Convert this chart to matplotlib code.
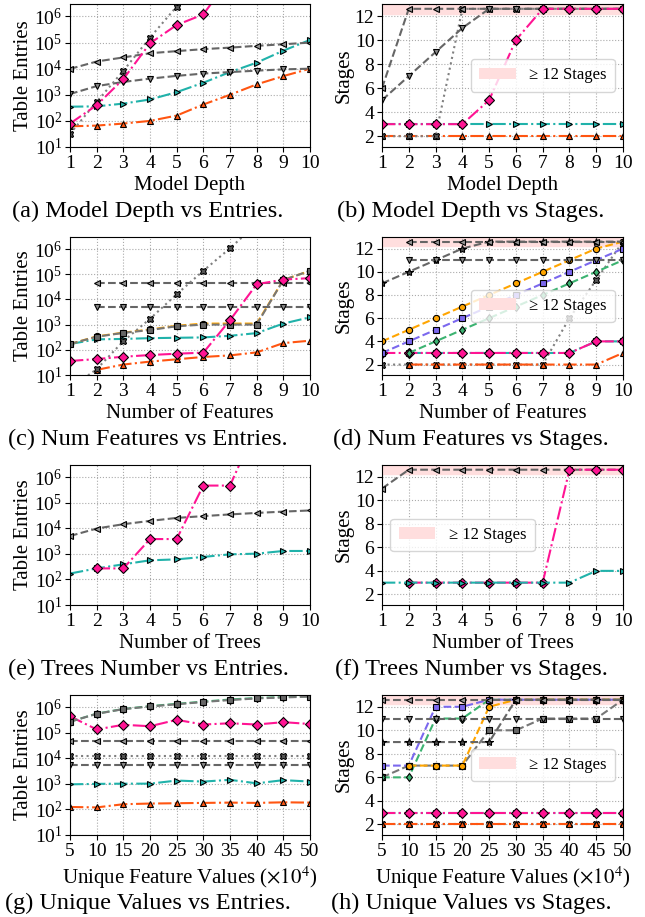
import numpy as np
import matplotlib.pyplot as plt
from matplotlib.patches import Patch

plt.rcParams['font.family'] = 'serif'
plt.rcParams['font.serif'] = ['Liberation Serif', 'DejaVu Serif']
plt.rcParams['mathtext.fontset'] = 'stix'

nan = np.nan

# x axes
depth = [1, 2, 3, 4, 5, 6, 7, 8, 9, 10]
n_features = [1, 2, 3, 4, 5, 6, 7, 8, 9, 10]
n_trees = [1, 2, 3, 4, 5, 6, 7, 8, 9, 10]
unique_vals = [5, 10, 15, 20, 25, 30, 35, 40, 45, 50]

# (a) model depth vs table entries
a_orange = [62, 66, 79, 100, 160, 425, 1000, 2500, 5200, 10000]
a_teal = [350, 360, 460, 660, 1260, 2900, 7400, 17000, 49000, 126000]
a_grey_down = [1070, 2150, 3100, 4150, 5300, 6500, 7400, 8400, 9400, 10000]
a_grey_left = [9800, 18800, 27000, 39000, 47000, 56000, 64000, 75000, 86000, 100000]
a_grey_x = [32, 540, 8300, 155000, 2.4e6, 4e7, nan, nan, nan, nan]
a_pink = [79, 400, 4000, 94000, 470000, 1.2e6, 3e7, nan, nan, nan]

# (b) model depth vs stages (12.6 = ">= 12 stages")
b_orange = [2, 2, 2, 2, 2, 2, 2, 2, 2, 2]
b_teal = [3, 3, 3, 3, 3, 3, 3, 3, 3, 3]
b_grey_x = [2, 2, 2, 12.6, 12.6, 12.6, 12.6, 12.6, 12.6, 12.6]
b_grey_left = [6, 12.6, 12.6, 12.6, 12.6, 12.6, 12.6, 12.6, 12.6, 12.6]
b_grey_down = [5, 7, 9, 11, 12.6, 12.6, 12.6, 12.6, 12.6, 12.6]
b_pink = [3, 3, 3, 3, 5, 10, 12.6, 12.6, 12.6, 12.6]

# (c) number of features vs table entries
c_orange = [nan, 16, 26, 34, 42, 52, 60, 79, 185, 230]
c_pink = [36, 43, 53, 62, 70, 77, 1500, 40000, 61000, 70000]
c_teal = [170, 260, 270, 290, 300, 310, 360, 460, 1100, 1950]
c_grey_left = [nan, 45000, 45000, 45000, 45000, 45000, 45000, 45000, 45000, 45000]
c_grey_down = [nan, 5000, 5000, 5000, 5000, 5000, 5000, 5000, 5000, 5000]
c_grey_x = [3, 17, 220, 1700, 16000, 137000, 1.07e6, 1e7, nan, nan]
c_amber = [170, 340, 480, 640, 900, 1100, 1100, 1100, 59000, 137000]
c_grey_sq = [170, 330, 470, 610, 860, 1000, 1000, 1000, 59000, 137000]

# (d) number of features vs stages
d_orange = [nan, 2, 2, 2, 2, 2, 2, 2, 2, 3]
d_grey_x = [2, 2, 2, 2, 2, 2, 2, 6, 9.3, 12.6]
d_teal = [nan, 3, 3, 3, 3, 3, 3, 3, 4, 4]
d_pink = [3, 3, 3, 3, 3, 3, 3, 3, 4, 4]
d_amber = [4, 5, 6, 7, 8, 9, 10, 11, 12, 12.6]
d_violet = [3, 4, 5, 6, 7, 8, 9, 10, 11, 12]
d_green = [nan, 3, 4, 5, 6, 7, 8, 9, 10, 11]
d_grey_star = [9, 10, 11, 12, 12.6, 12.6, 12.6, 12.6, 12.6, 12.6]
d_grey_left = [nan, 12.6, 12.6, 12.6, 12.6, 12.6, 12.6, 12.6, 12.6, 12.6]
d_grey_down = [nan, 11, 11, 11, 11, 11, 11, 11, 11, 11]

# (e) number of trees vs table entries
e_grey_left = [5000, 9800, 14500, 19500, 25500, 30000, 35000, 40000, 45000, 50000]
e_teal = [170, 270, 390, 560, 610, 760, 960, 1020, 1300, 1300]
e_pink = [nan, 270, 270, 3800, 3800, 470000, 470000, 1e8, nan, nan]

# (f) number of trees vs stages
f_grey_left = [11, 12.6, 12.6, 12.6, 12.6, 12.6, 12.6, 12.6, 12.6, 12.6]
f_pink = [nan, 3, 3, 3, 3, 3, 3, 12.6, 12.6, 12.6]
f_teal = [3, 3, 3, 3, 3, 3, 3, 3, 4, 4]

# (g) unique feature values vs table entries
g_orange = [125, 120, 160, 170, 175, 180, 185, 180, 190, 185]
g_teal = [960, 1000, 1020, 1020, 1350, 1230, 1440, 1050, 1400, 1230]
g_grey_down = [5300, 5300, 5300, 5300, 5300, 5300, 5300, 5300, 5300, 5300]
g_grey_x = [11800, 11800, 11800, 11800, 11800, 11800, 11800, 11800, 11800, 11800]
g_grey_left = [48000, 48000, 48000, 48000, 48000, 48000, 48000, 48000, 48000, 48000]
g_pink = [440000, 135000, 205000, 180000, 320000, 210000, 235000, 210000, 260000, 220000]
g_green = [270000, 560000, 850000, 1.1e6, 1.35e6, 1.65e6, 2.0e6, 2.3e6, 2.5e6, 2.7e6]
g_grey_sq = [270000, 550000, 840000, 1.07e6, 1.3e6, 1.6e6, 1.9e6, 2.2e6, 2.4e6, 2.6e6]

# (h) unique feature values vs stages
h_orange = [2, 2, 2, 2, 2, 2, 2, 2, 2, 2]
h_grey_x = [2, 2, 2, 2, 2, 2, 2, 2, 2, 2]
h_teal = [3, 3, 3, 3, 3, 3, 3, 3, 3, 3]
h_pink = [3, 3, 3, 3, 3, 3, 3, 3, 3, 3]
h_grey_left = [12.6, 12.6, 12.6, 12.6, 12.6, 12.6, 12.6, 12.6, 12.6, 12.6]
h_grey_down = [11, 11, 11, 11, 11, 11, 11, 11, 11, 11]
h_grey_star = [9, 9, 9, 9, 9, 12.6, 12.6, 12.6, 12.6, 12.6]
h_violet = [7, 7, 12, 12, 12.6, 12.6, 12.6, 12.6, 12.6, 12.6]
h_green = [6, 6, 11, 11, 12.6, 12.6, 12.6, 12.6, 12.6, 12.6]
h_amber = [nan, 7, 7, 7, 12, 12.6, 12.6, 12.6, 12.6, 12.6]
h_grey_sq = [6, 7, 7, 7, 10, 10, 11, 11, 11, 12.6]

STYLES = {
    'orange': dict(color='#ff5511', ls='-.', marker='^', mfc='#ff5511'),
    'teal': dict(color='#20b2aa', ls='-.', marker='>', mfc='#20b2aa'),
    'pink': dict(color='#ff1493', ls='-.', marker='D', mfc='#ff1493'),
    'grey_left': dict(color='#666666', ls='--', marker='<', mfc='#999999'),
    'grey_down': dict(color='#666666', ls='--', marker='v', mfc='#888888'),
    'grey_x': dict(color='#808080', ls=':', marker='X', mfc='#555555'),
    'amber': dict(color='#ffa500', ls='--', marker='o', mfc='#ffa500'),
    'violet': dict(color='#7b68ee', ls='--', marker='s', mfc='#7b68ee'),
    'green': dict(color='#3cb371', ls='--', marker='d', mfc='#3cb371'),
    'grey_star': dict(color='#666666', ls='--', marker='*', mfc='#444444'),
    'grey_sq': dict(color='#777777', ls='--', marker='s', mfc='#666666'),
}

W, H = 645, 917
fig = plt.figure(figsize=(W / 100, H / 100), dpi=100)


def make_ax(left, top, right, bottom):
    return fig.add_axes([left / W, 1 - bottom / H, (right - left) / W, (bottom - top) / H])


def draw(ax, x, series):
    for key, vals in series:
        st = STYLES[key]
        ms = {'*': 6, 'D': 5}.get(st['marker'], 4.5)
        ax.plot(x, vals, color=st['color'], ls=st['ls'], lw=1.5, marker=st['marker'],
                ms=ms, mfc=st['mfc'], mec='black', mew=0.8)


def style_entries(ax, x, xlabel):
    ax.set_yscale('log')
    ax.set_ylim(10, 3e6)
    ax.set_yticks([1e1, 1e2, 1e3, 1e4, 1e5, 1e6])
    ax.set_xlim(x[0], x[-1])
    ax.set_xticks(x)
    ax.set_ylabel('Table Entries', fontsize=15, labelpad=1)
    ax.set_xlabel(xlabel, fontsize=15, labelpad=3)
    ax.grid(True, which='major', ls=':', color='#aaaaaa', lw=0.8)
    ax.tick_params(labelsize=14, pad=2)


def style_stages(ax, x, xlabel, legend_loc):
    ax.axhspan(12.2, 13, color='#ffdede', zorder=0)
    ax.set_ylim(1.1, 13)
    ax.set_yticks([2, 4, 6, 8, 10, 12])
    ax.set_xlim(x[0], x[-1])
    ax.set_xticks(x)
    ax.set_ylabel('Stages', fontsize=15, labelpad=1)
    ax.set_xlabel(xlabel, fontsize=15, labelpad=3)
    ax.grid(True, ls=':', color='#aaaaaa', lw=0.8)
    ax.tick_params(labelsize=14, pad=2)
    ax.legend(handles=[Patch(facecolor='#ffdede', label='≥ 12 Stages')], loc=legend_loc,
              prop={'family': ['Liberation Serif', 'DejaVu Serif'], 'size': 12},
              handlelength=2.2, borderpad=0.5)


rows = [(4, 147), (237, 375), (465, 605), (695, 835)]
LEFT = (70, 310)
RIGHT = (382, 623)

# row 1
ax = make_ax(LEFT[0], rows[0][0], LEFT[1], rows[0][1])
draw(ax, depth, [('orange', a_orange), ('teal', a_teal), ('grey_down', a_grey_down),
                 ('grey_left', a_grey_left), ('grey_x', a_grey_x), ('pink', a_pink)])
style_entries(ax, depth, 'Model Depth')

ax = make_ax(RIGHT[0], rows[0][0], RIGHT[1], rows[0][1])
draw(ax, depth, [('orange', b_orange), ('teal', b_teal), ('grey_x', b_grey_x),
                 ('grey_left', b_grey_left), ('grey_down', b_grey_down), ('pink', b_pink)])
style_stages(ax, depth, 'Model Depth', 'center right')

# row 2
ax = make_ax(LEFT[0], rows[1][0], LEFT[1], rows[1][1])
draw(ax, n_features, [('orange', c_orange), ('teal', c_teal), ('grey_down', c_grey_down),
                      ('grey_left', c_grey_left), ('grey_x', c_grey_x), ('amber', c_amber),
                      ('grey_sq', c_grey_sq), ('pink', c_pink)])
style_entries(ax, n_features, 'Number of Features')

ax = make_ax(RIGHT[0], rows[1][0], RIGHT[1], rows[1][1])
draw(ax, n_features, [('grey_x', d_grey_x), ('orange', d_orange), ('teal', d_teal),
                      ('pink', d_pink), ('green', d_green), ('violet', d_violet),
                      ('amber', d_amber), ('grey_star', d_grey_star),
                      ('grey_down', d_grey_down), ('grey_left', d_grey_left)])
style_stages(ax, n_features, 'Number of Features', 'center right')

# row 3
ax = make_ax(LEFT[0], rows[2][0], LEFT[1], rows[2][1])
draw(ax, n_trees, [('grey_left', e_grey_left), ('teal', e_teal), ('pink', e_pink)])
style_entries(ax, n_trees, 'Number of Trees')

ax = make_ax(RIGHT[0], rows[2][0], RIGHT[1], rows[2][1])
draw(ax, n_trees, [('grey_left', f_grey_left), ('pink', f_pink), ('teal', f_teal)])
style_stages(ax, n_trees, 'Number of Trees', 'center left')

# row 4
xl = r'Unique Feature Values ($\times 10^4$)'
ax = make_ax(LEFT[0], rows[3][0], LEFT[1], rows[3][1])
draw(ax, unique_vals, [('orange', g_orange), ('teal', g_teal), ('grey_down', g_grey_down),
                       ('grey_x', g_grey_x), ('grey_left', g_grey_left), ('pink', g_pink),
                       ('green', g_green), ('grey_sq', g_grey_sq)])
style_entries(ax, unique_vals, xl)

ax = make_ax(RIGHT[0], rows[3][0], RIGHT[1], rows[3][1])
draw(ax, unique_vals, [('grey_x', h_grey_x), ('orange', h_orange), ('teal', h_teal),
                       ('pink', h_pink), ('grey_sq', h_grey_sq), ('green', h_green),
                       ('violet', h_violet), ('amber', h_amber), ('grey_star', h_grey_star),
                       ('grey_down', h_grey_down), ('grey_left', h_grey_left)])
style_stages(ax, unique_vals, xl, 'center right')

captions = [
    ('(a) Model Depth vs Entries.', '(b) Model Depth vs Stages.', 211),
    ('(c) Num Features vs Entries.', '(d) Num Features vs Stages.', 439),
    ('(e) Trees Number vs Entries.', '(f) Trees Number vs Stages.', 669),
    ('(g) Unique Values vs Entries.', '(h) Unique Values vs Stages.', 903),
]
for left_cap, right_cap, y in captions:
    fig.text(148 / W, 1 - y / H, left_cap, ha='center', va='center', fontsize=17.5)
    fig.text(471 / W, 1 - y / H, right_cap, ha='center', va='center', fontsize=17.5)

fig.savefig('out.png', dpi=100)
